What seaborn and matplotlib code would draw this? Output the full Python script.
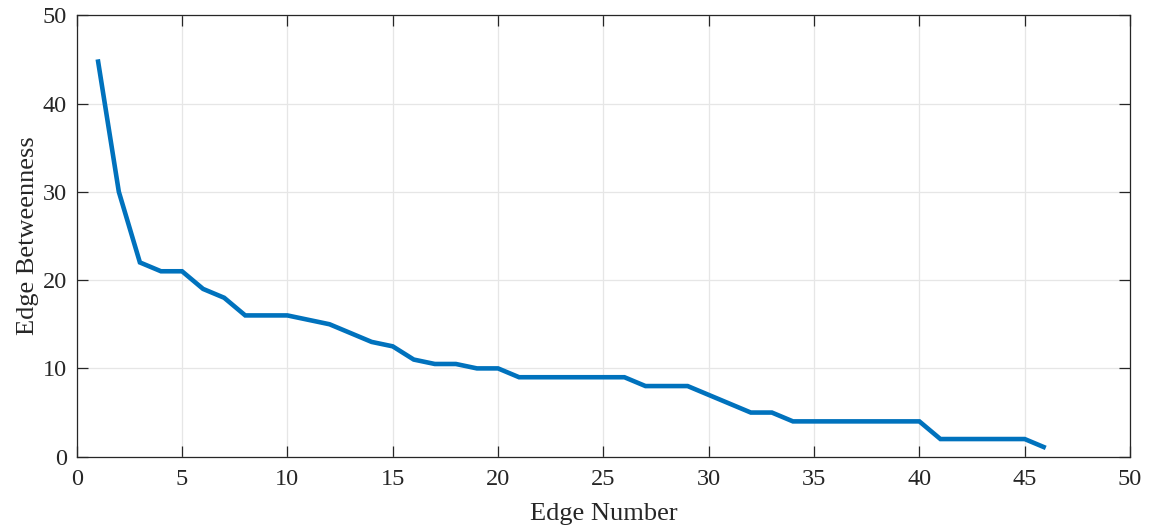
import numpy as np
import pandas as pd
import matplotlib
matplotlib.use("Agg")
import matplotlib.pyplot as plt
import seaborn as sns

edge_number = list(range(1, 47))
edge_betweenness = [45, 30, 22, 21, 21, 19, 18, 16, 16, 16,
                    15.5, 15, 14, 13, 12.5, 11, 10.5, 10.5, 10, 10,
                    9, 9, 9, 9, 9, 9, 8, 8, 8, 7,
                    6, 5, 5, 4, 4, 4, 4, 4, 4, 4,
                    2, 2, 2, 2, 2, 1]
x_ticks = [0, 5, 10, 15, 20, 25, 30, 35, 40, 45, 50]
y_ticks = [0, 10, 20, 30, 40, 50]

sns.set_theme(style="white")
plt.rcParams['font.family'] = ['Liberation Serif', 'DejaVu Serif']

df = pd.DataFrame({"Edge Number": edge_number, "Edge Betweenness": edge_betweenness})

fig = plt.figure(figsize=(11.53, 5.29), dpi=100)
ax = fig.add_axes([76.7 / 1153, 1 - 456.7 / 529, (1130 - 76.7) / 1153, (456.7 - 15.2) / 529])

sns.lineplot(data=df, x="Edge Number", y="Edge Betweenness", ax=ax,
             color="#0072BD", linewidth=3.3, solid_joinstyle="miter",
             solid_capstyle="butt")

ax.set_xlim(0, 50)
ax.set_ylim(0, 50)
ax.set_xticks(x_ticks)
ax.set_yticks(y_ticks)
ax.grid(True, color="#e6e6e6", linewidth=0.9)
ax.set_axisbelow(True)
for s in ax.spines.values():
    s.set_visible(True)
    s.set_color("#262626")
    s.set_linewidth(0.9)
ax.tick_params(direction="in", length=8, width=0.9, color="#262626",
               top=True, right=True, bottom=True, left=True,
               labelsize=17.5, labelcolor="#262626")
ax.tick_params(axis="x", pad=9)
ax.tick_params(axis="y", pad=7)
ax.set_xlabel("Edge Number", fontsize=19, color="#262626", labelpad=9)
ax.set_ylabel("Edge Betweenness", fontsize=19, color="#262626", labelpad=3)

fig.savefig("out.png", dpi=100)
